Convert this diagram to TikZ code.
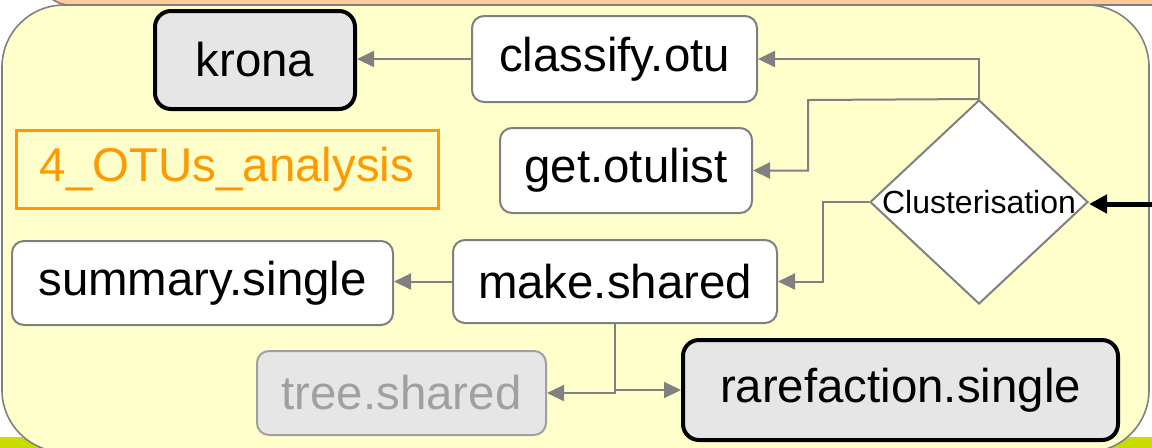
\documentclass[tikz,border=0pt]{standalone}
\usepackage{fontspec}
\setmainfont{Liberation Sans}
\usetikzlibrary{arrows.meta,shapes.geometric}
\definecolor{frameyellow}{HTML}{FFFFCC}
\definecolor{stripe}{HTML}{FFCC99}
\definecolor{boxgray}{HTML}{E6E6E6}
\definecolor{linegray}{HTML}{808080}
\definecolor{labelorange}{HTML}{FF9900}
\definecolor{limegreen}{HTML}{C8DC00}
\definecolor{fadedgray}{HTML}{A0A0A0}

\tikzset{
    taskbox/.style={draw=linegray, line width=1pt, fill=white, rounded corners=6pt,
        inner sep=0pt, font=\fontsize{23.7}{28}\selectfont},
    keybox/.style={taskbox, draw=black, line width=2pt, fill=boxgray, rounded corners=8pt},
    fadedbox/.style={taskbox, draw=fadedgray, fill=boxgray, text=fadedgray},
    flow/.style={draw=linegray, line width=1pt, -{Triangle[length=8.5pt,width=8pt]}},
    inflow/.style={draw=black, line width=2.5pt, -{Triangle[length=9pt,width=9pt]}}
}

\begin{document}
\begin{tikzpicture}[x=0.5pt,y=-0.5pt]
        \useasboundingbox (0,0) rectangle (1152,447);
        \clip (0,0) rectangle (1152,447);
        % background bands and frame
        \fill[limegreen] (0,437) rectangle (1152,460);
        \draw[fill=stripe, draw=linegray, line width=0.8pt, rounded corners=15pt]
            (40,-60) rectangle (1200,5);
        \draw[fill=frameyellow, draw=linegray, line width=0.8pt, rounded corners=31pt]
            (2,5) rectangle (1149,452);

        % steps
        \node[keybox, minimum width=100pt, minimum height=49pt] (krona) at (255,60) {krona};
        \node[taskbox, minimum width=142.5pt, minimum height=43pt] (classify) at (614.5,59) {classify.otu};
        \node[taskbox, minimum width=126pt, minimum height=42.5pt] (getlist) at (626,170.5) {get.otulist};
        \node[draw=labelorange, line width=1.5pt, text=labelorange, inner sep=0pt,
            font=\fontsize{23.7}{28}\selectfont, minimum width=211pt, minimum height=39pt]
            (label) at (227,169) {4\_OTUs\_analysis};
        \node[diamond, draw=linegray, line width=1pt, fill=white, inner sep=0pt,
            minimum width=109pt, minimum height=102pt, font=\fontsize{16}{18}\selectfont]
            (clus) at (979,202) {\makebox[0pt]{Clusterisation}};
        \node[taskbox, minimum width=190.5pt, minimum height=42pt] (summary) at (202.5,283) {summary.single};
        \node[taskbox, minimum width=162pt, minimum height=41.5pt] (make) at (615,281.5) {make.shared};
        \node[fadedbox, minimum width=144.5pt, minimum height=42pt] (tree) at (401.5,393) {tree.shared};
        \node[keybox, minimum width=217.5pt, minimum height=50pt] (rare) at (900.5,390) {rarefaction.single};

        % bends
        \coordinate (bendA) at (808,100);
        \coordinate (bendB) at (823,202);
        \coordinate (inlet) at (1152,204);

        % connectors
        \draw[flow] (classify.west) -- (classify.west -| krona.east);
        \draw[flow] (clus.north) |- (classify.east);
        \draw[flow] (clus.north) -- (bendA) |- (getlist.east);
        \draw[flow] (clus.west) -- (bendB) |- (make.east);
        \draw[flow] (make.west) -- (make.west -| summary.east);
        \draw[flow] (make.south) |- (tree.east);
        \draw[flow] (make.south) |- (rare.west);
        \draw[inflow] (inlet) -- (inlet -| clus.east);
\end{tikzpicture}
\end{document}
